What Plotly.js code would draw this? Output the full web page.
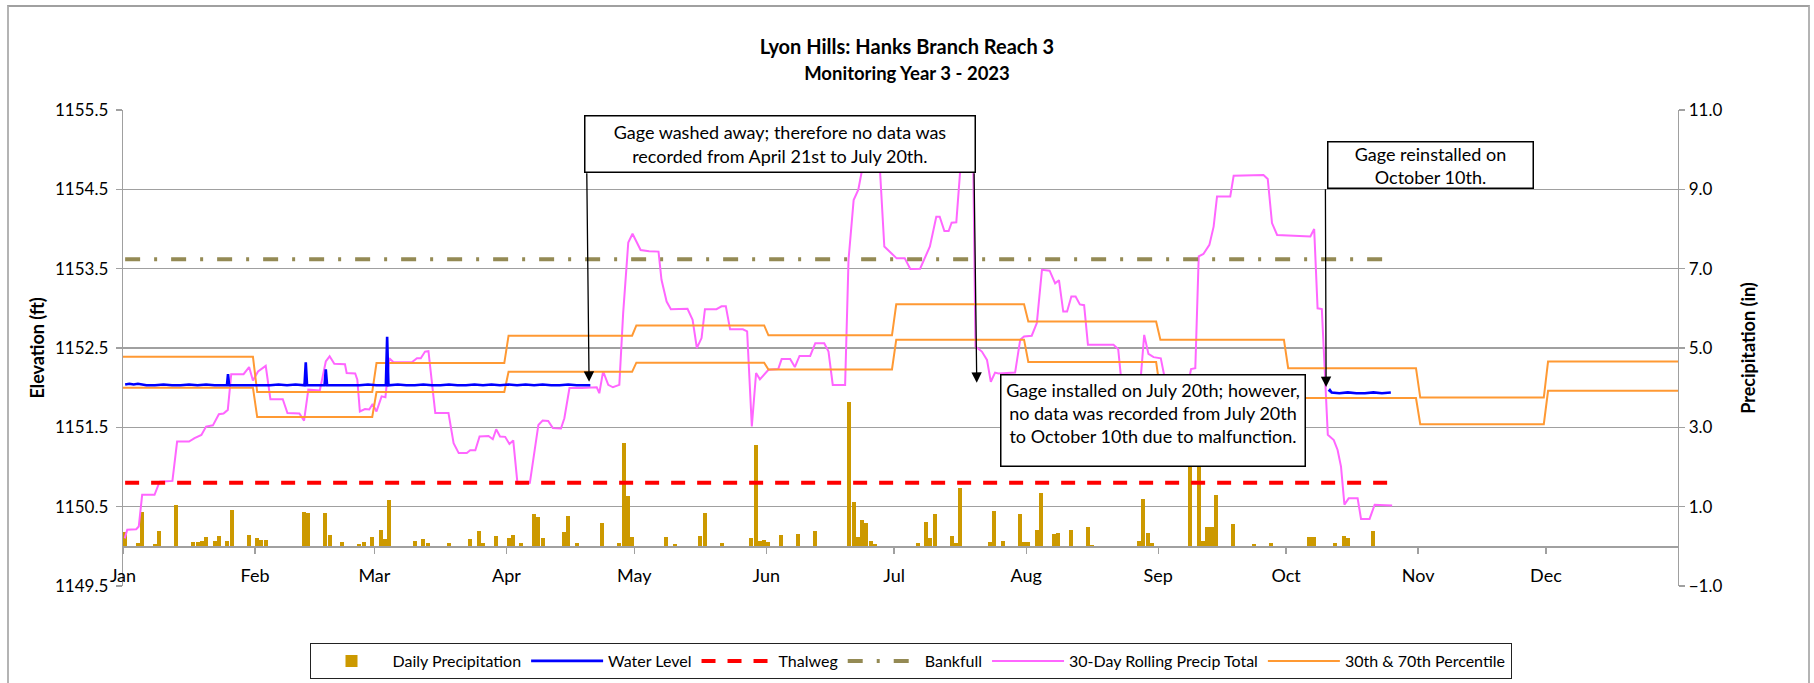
<!DOCTYPE html>
<html>
<head>
<meta charset="utf-8">
<script src="https://cdn.plot.ly/plotly-3.0.1.min.js"></script>
<style>
  html, body { margin: 0; padding: 0; background: #fff; }
  #wrap { position: relative; width: 1814px; height: 683px; overflow: hidden; }
  #chart { position: absolute; left: 0; top: 0; width: 1814px; height: 683px; }
  #frame { position: absolute; left: 7px; top: 5px; width: 1803px; height: 700px;
           border: 2px solid #b4b4b4; border-top-color: #a0a0a0; pointer-events: none; box-sizing: border-box; }
</style>
</head>
<body>
<div id="wrap"><div id="chart"></div><div id="frame"></div></div>
<script>
// ---------------- DATA ----------------
const YEAR = 2023;
const monthNames = ['Jan','Feb','Mar','Apr','May','Jun','Jul','Aug','Sep','Oct','Nov','Dec'];
const monthStartDay = [0,31,59,90,120,151,181,212,243,273,304,334]; // day-of-year (0 = Jan 1)

// Daily precipitation (in), by date (MM-DD)
const precipDates = [
  '01-01','01-04','01-05','01-08','01-09','01-13','01-17','01-18','01-19','01-20','01-22','01-23','01-25','01-26','01-30',
  '02-01','02-02','02-03','02-12','02-13','02-17','02-18','02-21','02-25','02-26','02-28',
  '03-02','03-03','03-04','03-10','03-12','03-13','03-18','03-23','03-25','03-26','03-29',
  '04-01','04-02','04-04','04-07','04-08','04-09','04-14','04-15','04-17','04-23','04-27','04-28','04-29','04-30',
  '05-08','05-10','05-16','05-17','05-21','05-28','05-29','05-30','05-31',
  '06-01','06-04','06-08','06-12','06-20','06-21','06-22','06-23','06-24','06-25','06-26',
  '07-06','07-08','07-09','07-10','07-14','07-15','07-16','07-23','07-24','07-26','07-30','07-31',
  '08-01','08-03','08-04','08-07','08-08','08-11','08-15','08-16','08-27','08-28','08-29','08-30',
  '09-08','09-10','09-11','09-12','09-13','09-14','09-18','09-23','09-27',
  '10-06','10-07','10-12','10-14','10-15','10-21'
];
const precipVals = [
  0.37,0.08,0.86,0.06,0.38,1.04,0.11,0.11,0.14,0.23,0.14,0.26,0.14,0.91,0.28,
  0.21,0.17,0.17,0.86,0.84,0.83,0.28,0.12,0.06,0.12,0.23,
  0.41,0.19,1.16,0.14,0.18,0.08,0.08,0.19,0.38,0.08,0.27,
  0.21,0.28,0.08,0.81,0.74,0.22,0.35,0.77,0.08,0.60,0.08,2.60,1.26,0.23,
  0.23,0.06,0.27,0.84,0.08,0.22,2.56,0.14,0.16,
  0.11,0.29,0.32,0.39,3.65,1.13,0.23,0.67,0.60,0.14,0.06,
  0.08,0.62,0.21,0.81,0.25,0.08,1.48,0.12,0.88,0.14,0.81,0.12,
  0.11,0.42,1.34,0.31,0.33,0.42,0.50,0.04,0.14,1.19,0.33,0.08,
  2.70,2.90,0.14,0.48,0.48,1.30,0.56,0.06,0.08,
  0.23,0.23,0.08,0.27,0.22,0.39
];

// Water level (ft) : [day-of-year, elevation]; null row = gage gap
const waterLevel = [
  [0.5,1152.04],[1.5,1152.05],[2.5,1152.04],[3.5,1152.05],[5.5,1152.03],[7.5,1152.03],[9.5,1152.04],
  [11.5,1152.03],[13.5,1152.03],[15.5,1152.04],[17.5,1152.03],[19.5,1152.04],[21.5,1152.03],[23.5,1152.03],
  [24.4,1152.03],[24.65,1152.17],[24.9,1152.03],[26.5,1152.03],[28.5,1152.03],[30.5,1152.03],[32.5,1152.03],
  [34.5,1152.03],[36.5,1152.04],[38.5,1152.03],[40.5,1152.04],[42.6,1152.03],[42.9,1152.32],[43.2,1152.03],
  [45.5,1152.03],[47.3,1152.03],[47.6,1152.23],[47.9,1152.03],[49.5,1152.03],[51.5,1152.03],[53.5,1152.03],
  [55.5,1152.03],[57.5,1152.04],[59.5,1152.03],[61.7,1152.03],[62.0,1152.64],[62.3,1152.03],[64.5,1152.04],
  [66.5,1152.03],[68.5,1152.03],[70.5,1152.04],[72.5,1152.03],[74.5,1152.03],[76.5,1152.04],[78.5,1152.03],
  [80.5,1152.03],[82.5,1152.04],[84.5,1152.03],[86.5,1152.04],[88.5,1152.03],[90.5,1152.04],[92.5,1152.03],
  [94.5,1152.04],[96.5,1152.03],[98.5,1152.04],[100.5,1152.03],[102.5,1152.03],[104.5,1152.04],[106.5,1152.03],
  [108.5,1152.03],[109.7,1152.03],
  [null,null],
  [283.0,1151.95],[283.3,1151.97],[283.7,1151.94],[285.5,1151.93],[287.5,1151.94],[289.5,1151.93],
  [291.5,1151.93],[293.5,1151.94],[295.5,1151.93],[297.6,1151.94]
];

// Thalweg & bankfull elevations (ft), over the monitored period (day-of-year)
const refDays = [0.5, 297.5];
const thalwegVals = [1150.8, 1150.8];
const bankfullVals = [1153.62, 1153.62];

// 30-day rolling precipitation total (in): [day-of-year, inches]
const rolling30 = [
  [0.4,0.20],[1.0,0.42],[3.1,0.43],[3.7,0.50],[4.5,1.30],[7.4,1.30],[8.6,1.63],[11.6,1.65],[12.7,2.64],[15.5,2.64],
  [16.8,2.73],[18.4,2.81],[19.5,3.02],[21.1,3.05],[22.5,3.33],[23.6,3.35],[24.6,3.44],[25.4,4.34],[28.3,4.34],
  [29.6,4.52],[30.5,4.18],[31.7,4.41],[33.5,4.55],[34.6,3.71],[37.5,3.71],[38.6,3.36],[41.4,3.35],[42.5,3.17],
  [43.5,3.95],[46.2,3.93],[47.6,4.66],[48.5,4.79],[49.6,4.60],[52.1,4.59],[52.5,4.37],[54.5,4.36],[55.0,4.20],
  [55.6,3.40],[56.8,3.46],[57.8,3.45],[58.6,3.59],[59.5,3.40],[60.7,3.78],[61.6,3.76],[62.5,4.74],[63.5,4.64],
  [67.8,4.64],[69.0,4.74],[69.9,4.74],[70.9,4.91],[71.7,4.92],[73.3,3.36],[76.4,3.36],[77.6,2.60],[78.8,2.35],
  [80.7,2.35],[81.5,2.42],[82.7,2.42],[83.7,2.77],[85.8,2.78],[86.8,2.70],[87.6,2.95],[88.5,2.77],[89.7,2.76],
  [90.7,2.58],[91.6,2.67],[92.6,1.58],[95.5,1.60],[97.5,3.06],[98.5,3.17],[99.8,3.16],[100.9,2.98],[102.8,2.97],
  [103.6,3.23],[104.8,3.99],[107.7,3.99],[111.2,4.01],[111.8,3.86],[112.7,4.41],[113.9,4.07],[115.0,4.01],
  [116.5,4.07],[117.4,5.88],[118.6,7.66],[119.6,7.88],[121.5,7.47],[123.5,7.44],[125.7,7.43],[126.4,6.72],
  [127.6,6.17],[128.6,5.98],[132.5,5.99],[133.7,5.71],[134.7,5.00],[135.8,5.25],[136.6,5.98],[139.3,5.98],
  [140.5,6.05],[141.5,6.05],[142.5,5.47],[145.5,5.47],[146.5,5.42],[147.6,3.02],[148.6,4.37],[149.5,4.21],
  [151.5,4.45],[153.8,4.47],[154.6,4.72],[156.6,4.72],[157.7,4.52],[158.8,4.80],[161.3,4.80],[162.5,5.12],
  [164.6,5.12],[165.6,4.91],[166.6,4.07],[169.5,4.07],[170.3,7.22],[171.5,8.73],[172.6,8.99],[173.4,9.45],
  [174.5,10.10],[176.5,10.10],[177.7,9.45],[178.7,7.56],[181.6,7.26],[183.5,7.26],[184.8,6.99],[187.1,7.00],
  [189.4,7.56],[190.9,8.31],[191.7,8.31],[192.8,7.95],[193.8,7.95],[194.5,8.16],[195.6,8.17],[196.5,9.45],
  [197.5,10.00],[199.0,10.00],[199.6,9.45],[200.1,5.04],[201.6,4.91],[202.8,4.70],[203.7,4.15],[204.7,4.38],
  [205.5,4.36],[209.4,4.38],[210.6,5.21],[211.5,5.29],[213.3,5.31],[214.5,5.63],[215.7,6.97],[217.5,6.95],
  [218.8,6.63],[219.7,6.71],[220.7,5.92],[221.6,5.92],[222.6,6.30],[223.6,6.30],[224.6,6.10],[225.6,6.08],
  [226.5,5.08],[232.5,5.08],[233.6,4.97],[234.5,4.00],[238.7,4.00],[239.7,5.33],[240.7,4.85],[241.9,4.77],
  [243.6,4.74],[244.6,4.20],[250.2,4.20],[250.7,4.47],[251.7,4.49],[252.5,7.31],[253.6,7.37],[255.0,7.60],
  [256.0,8.06],[256.8,8.82],[259.9,8.82],[260.7,9.34],[267.7,9.36],[268.7,9.26],[269.7,8.15],[270.9,7.85],
  [278.7,7.81],[279.6,8.00],[280.4,6.00],[281.4,5.98],[282.8,2.81],[284.2,2.68],[285.1,2.43],[285.9,2.01],
  [286.7,1.05],[287.7,1.21],[289.8,1.21],[290.6,0.69],[292.6,0.69],[293.8,1.05],[297.9,1.03]
];

// Monthly 30th and 70th percentile of 30-day rolling precipitation (in)
const pct70 = [4.78,3.89,4.62,5.31,5.57,5.32,6.10,5.67,5.21,4.49,3.75,4.66];
const pct30 = [4.00,3.26,3.89,4.40,4.63,4.46,5.21,4.65,3.90,3.74,3.08,3.92];

// ---------------- BUILD ----------------
function doy(mmdd) {
  const [m, d] = mmdd.split('-').map(Number);
  return (Date.UTC(YEAR, m - 1, d) - Date.UTC(YEAR, 0, 1)) / 86400000;
}
const precipX = precipDates.map(s => doy(s) + 0.5);

function stepSeries(vals) {
  const xs = [], ys = [];
  for (let i = 0; i < 12; i++) {
    const s = i === 0 ? 0 : monthStartDay[i] + 0.5;
    const e = i === 11 ? 365 : monthStartDay[i + 1] - 0.5;
    xs.push(s, e); ys.push(vals[i], vals[i]);
  }
  return {xs, ys};
}
const up = stepSeries(pct70), lo = stepSeries(pct30);

const FONT = 'Lato, "Open Sans", sans-serif';
const GRID = '#a0a0a0';

const traces = [
  { type: 'bar', name: 'Daily Precipitation', x: precipX, y: precipVals, yaxis: 'y',
    width: 0.95, marker: {color: '#cc9900', line: {width: 0}}, legendrank: 1 },
  { type: 'scatter', mode: 'lines', name: '30-Day Rolling Precip Total', yaxis: 'y',
    x: rolling30.map(p => p[0]), y: rolling30.map(p => p[1]),
    line: {color: '#ff66ff', width: 2}, legendrank: 5 },
  { type: 'scatter', mode: 'lines', name: '30th & 70th Percentile', yaxis: 'y', legendgroup: 'pct',
    x: up.xs, y: up.ys, line: {color: '#ff9933', width: 2}, legendrank: 6 },
  { type: 'scatter', mode: 'lines', name: '30th & 70th Percentile', yaxis: 'y', legendgroup: 'pct',
    x: lo.xs, y: lo.ys, line: {color: '#ff9933', width: 2}, showlegend: false },
  { type: 'scatter', mode: 'lines', name: 'Thalweg', yaxis: 'y2', x: refDays, y: thalwegVals,
    line: {color: '#ff0000', width: 4, dash: '14px,12px'}, legendrank: 3 },
  { type: 'scatter', mode: 'lines', name: 'Bankfull', yaxis: 'y2', x: refDays, y: bankfullVals,
    line: {color: '#948a54', width: 4, dash: '15px,14px,3px,14px'}, legendrank: 4 },
  { type: 'scatter', mode: 'lines', name: 'Water Level', yaxis: 'y2',
    x: waterLevel.map(p => p[0]), y: waterLevel.map(p => p[1]), connectgaps: false,
    line: {color: '#0000ff', width: 2.6}, legendrank: 2 }
];

const annFont = {family: FONT, size: 18, color: '#000'};
const boxCommon = {xref: 'x', yref: 'y2', showarrow: false, bgcolor: '#ffffff',
  bordercolor: '#000000', borderwidth: 1.5, font: annFont, align: 'center'};
const arrowCommon = {xref: 'x', yref: 'y2', text: '', showarrow: true, arrowhead: 2,
  arrowsize: 1.6, arrowwidth: 1.3, arrowcolor: '#000000', standoff: 0, startstandoff: 0};

const layout = {
  width: 1814, height: 683,
  margin: {l: 123, r: 136, t: 110, b: 97, pad: 0, autoexpand: false},
  paper_bgcolor: '#ffffff', plot_bgcolor: '#ffffff',
  font: {family: FONT, size: 17, color: '#000'},
  showlegend: true,
  bargap: 0,
  title: {
    text: '<b>Lyon Hills: Hanks Branch Reach 3</b><br><b><span style="font-size:18.5px">Monitoring Year 3 - 2023</span></b>',
    x: 0.5, xref: 'container', xanchor: 'center',
    y: 1 - 54 / 683, yref: 'container', yanchor: 'top',
    font: {family: FONT, size: 20, color: '#000'}
  },
  xaxis: {
    range: [0, 365], type: 'linear',
    tickmode: 'array', tickvals: monthStartDay, ticktext: monthNames,
    anchor: 'free', position: 1 / 12,
    showline: true, linecolor: GRID, linewidth: 1.3,
    ticks: 'outside', ticklen: 6, tickcolor: GRID, tickwidth: 1.3,
    ticklabelstandoff: 7,
    showgrid: false, zeroline: false, tickfont: {size: 18},
    fixedrange: true
  },
  yaxis: {
    side: 'right', range: [-1, 11], tick0: -1, dtick: 2, tickformat: '.1f',
    showgrid: true, gridcolor: GRID, gridwidth: 1.3, zeroline: false,
    showline: true, linecolor: GRID, linewidth: 1.3,
    ticks: 'outside', ticklen: 6, tickcolor: GRID, tickwidth: 1.3,
    tickfont: {size: 17},
    title: {text: '<b>Precipitation (in)</b>', font: {size: 18}, standoff: 21},
    fixedrange: true
  },
  yaxis2: {
    side: 'left', overlaying: 'y', range: [1149.5, 1155.5], tick0: 1149.5, dtick: 1, tickformat: '.1f',
    showgrid: false, zeroline: false,
    showline: true, linecolor: GRID, linewidth: 1.3,
    ticks: 'outside', ticklen: 6, tickcolor: GRID, tickwidth: 1.3,
    ticklabelstandoff: 4,
    tickfont: {size: 17},
    title: {text: '<b>Elevation (ft)</b>', font: {size: 18}, standoff: 5},
    fixedrange: true
  },
  legend: {
    orientation: 'h', xref: 'container', x: 910.5 / 1814, xanchor: 'center',
    yref: 'container', y: 1 - 643 / 683, yanchor: 'top',
    bordercolor: '#222222', borderwidth: 1, bgcolor: '#ffffff',
    font: {family: FONT, size: 16, color: '#000'}, itemwidth: 72, traceorder: 'normal'
  },
  annotations: [
    Object.assign({}, boxCommon, {x: 154.3, y: 1155.073, width: 383, height: 49, borderpad: 3,
      text: 'Gage washed away; therefore no data was<br>recorded from April 21st to July 20th.'}),
    Object.assign({}, boxCommon, {x: 241.7, y: 1151.582, width: 297, height: 84, borderpad: 3, valign: 'top',
      text: 'Gage installed on July 20th; however,<br>no data was recorded from July 20th<br>to October 10th due to malfunction.'}),
    Object.assign({}, boxCommon, {x: 306.9, y: 1154.81, width: 204, borderpad: 0,
      text: 'Gage reinstalled on<br>October 10th.'}),
    Object.assign({}, arrowCommon, {x: 109.4, y: 1152.075, ax: -2.3, ay: -210}),
    Object.assign({}, arrowCommon, {x: 200.4, y: 1152.062, ax: -2.7, ay: -211}),
    Object.assign({}, arrowCommon, {x: 282.4, y: 1152.008, ax: -0.7, ay: -199.3})
  ]
};

Plotly.newPlot('chart', traces, layout, {displayModeBar: false, responsive: false, staticPlot: true});
</script>
</body>
</html>
